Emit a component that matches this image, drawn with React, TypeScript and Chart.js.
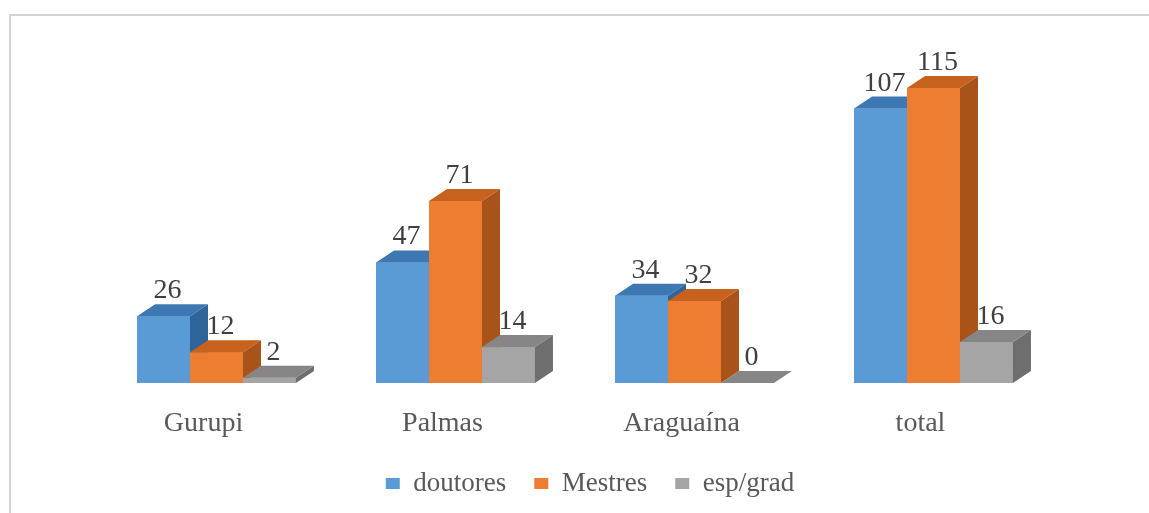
import React, { useEffect, useRef } from "react";
import { Chart, registerables } from "chart.js";

Chart.register(...registerables);

// ---- data ----
const categories = ["Gurupi", "Palmas", "Araguaína", "total"];
const seriesNames = ["doutores", "Mestres", "esp/grad"];
const doutores = [26, 47, 34, 107];
const mestres = [12, 71, 32, 115];
const espGrad = [2, 14, 0, 16];

// ---- styles ----
const FRONT = ["#5b9bd5", "#ed7d31", "#a5a5a5"];
const TOP = ["#3e78b3", "#c6621d", "#868686"];
const SIDE = ["#2f649b", "#a8531a", "#6e6e6e"];
const DEPTH_X = 18;
const DEPTH_Y = -12;
const SERIF = "'Liberation Serif', 'Times New Roman', serif";
const CANVAS_W = 1149;
const CANVAS_H = 513;
const LEGEND_SHIFT = 15;

const framePlugin = {
  id: "frame",
  beforeDraw(chart: any) {
    const ctx = chart.ctx;
    ctx.save();
    ctx.strokeStyle = "#d3d3d3";
    ctx.lineWidth = 2;
    ctx.beginPath();
    ctx.moveTo(10, CANVAS_H);
    ctx.lineTo(10, 15);
    ctx.lineTo(CANVAS_W, 15);
    ctx.stroke();
    ctx.restore();
  },
};

const legendShiftPlugin = {
  id: "legendShift",
  afterLayout(chart: any) {
    const lg = chart.legend;
    if (lg) {
      lg.left += LEGEND_SHIFT;
      lg.right += LEGEND_SHIFT;
      if (lg.legendHitBoxes) lg.legendHitBoxes.forEach((h: any) => (h.left += LEGEND_SHIFT));
    }
  },
};

const bars3dPlugin = {
  id: "bars3d",
  afterDatasetsDraw(chart: any) {
    const ctx = chart.ctx;
    const n = chart.data.labels.length;
    const metas = chart.data.datasets.map((_: any, i: number) => chart.getDatasetMeta(i));
    ctx.save();
    for (let j = 0; j < n; j++) {
      metas.forEach((meta: any, i: number) => {
        const el = meta.data[j];
        if (!el) return;
        const { x, y, base, width } = el.getProps(["x", "y", "base", "width"], true);
        const l = x - width / 2;
        const r = x + width / 2;
        // front
        ctx.fillStyle = FRONT[i];
        ctx.fillRect(l, y, width, base - y);
        // side
        ctx.fillStyle = SIDE[i];
        ctx.beginPath();
        ctx.moveTo(r, y);
        ctx.lineTo(r + DEPTH_X, y + DEPTH_Y);
        ctx.lineTo(r + DEPTH_X, base + DEPTH_Y);
        ctx.lineTo(r, base);
        ctx.closePath();
        ctx.fill();
        // top
        ctx.fillStyle = TOP[i];
        ctx.beginPath();
        ctx.moveTo(l, y);
        ctx.lineTo(l + DEPTH_X, y + DEPTH_Y);
        ctx.lineTo(r + DEPTH_X, y + DEPTH_Y);
        ctx.lineTo(r, y);
        ctx.closePath();
        ctx.fill();
      });
    }
    // value labels
    ctx.font = `28px ${SERIF}`;
    ctx.fillStyle = "#404040";
    ctx.textAlign = "center";
    ctx.textBaseline = "alphabetic";
    metas.forEach((meta: any, i: number) => {
      meta.data.forEach((el: any, j: number) => {
        const v = chart.data.datasets[i].data[j];
        ctx.fillText(String(v), el.x + 4, el.y - 18);
      });
    });
    ctx.restore();
  },
};

export default function App() {
  const ref = useRef<HTMLCanvasElement>(null);

  useEffect(() => {
    const chart = new Chart(ref.current as HTMLCanvasElement, {
      type: "bar",
      data: {
        labels: categories,
        datasets: [
          { label: seriesNames[0], data: doutores, backgroundColor: FRONT[0], borderWidth: 0 },
          { label: seriesNames[1], data: mestres, backgroundColor: FRONT[1], borderWidth: 0 },
          { label: seriesNames[2], data: espGrad, backgroundColor: FRONT[2], borderWidth: 0 },
        ],
      },
      options: {
        animation: false,
        responsive: false,
        layout: { padding: { left: 97, right: CANVAS_W - 1053, top: 24, bottom: 6 } },
        datasets: { bar: { categoryPercentage: 0.665, barPercentage: 1 } },
        plugins: {
          tooltip: { enabled: false },
          legend: {
            position: "bottom",
            labels: {
              font: { family: SERIF, size: 27 },
              color: "#595959",
              boxWidth: 14,
              boxHeight: 11,
              padding: 28,
            },
          },
        },
        scales: {
          x: {
            grid: { display: false, drawTicks: false },
            border: { display: false },
            ticks: {
              font: { family: SERIF, size: 28 },
              color: "#595959",
              labelOffset: -13,
              padding: 24,
              maxRotation: 0,
              autoSkip: false,
            },
            afterFit(scale: any) {
              scale.height = 59;
            },
          },
          y: { display: false, min: 0, max: 140 },
        },
      },
      plugins: [framePlugin, legendShiftPlugin, bars3dPlugin],
    });
    return () => chart.destroy();
  }, []);

  return (
    <div style={{ position: "fixed", left: 0, top: 0, width: CANVAS_W, height: CANVAS_H }}>
      <canvas ref={ref} width={CANVAS_W} height={CANVAS_H} style={{ display: "block" }} />
    </div>
  );
}
